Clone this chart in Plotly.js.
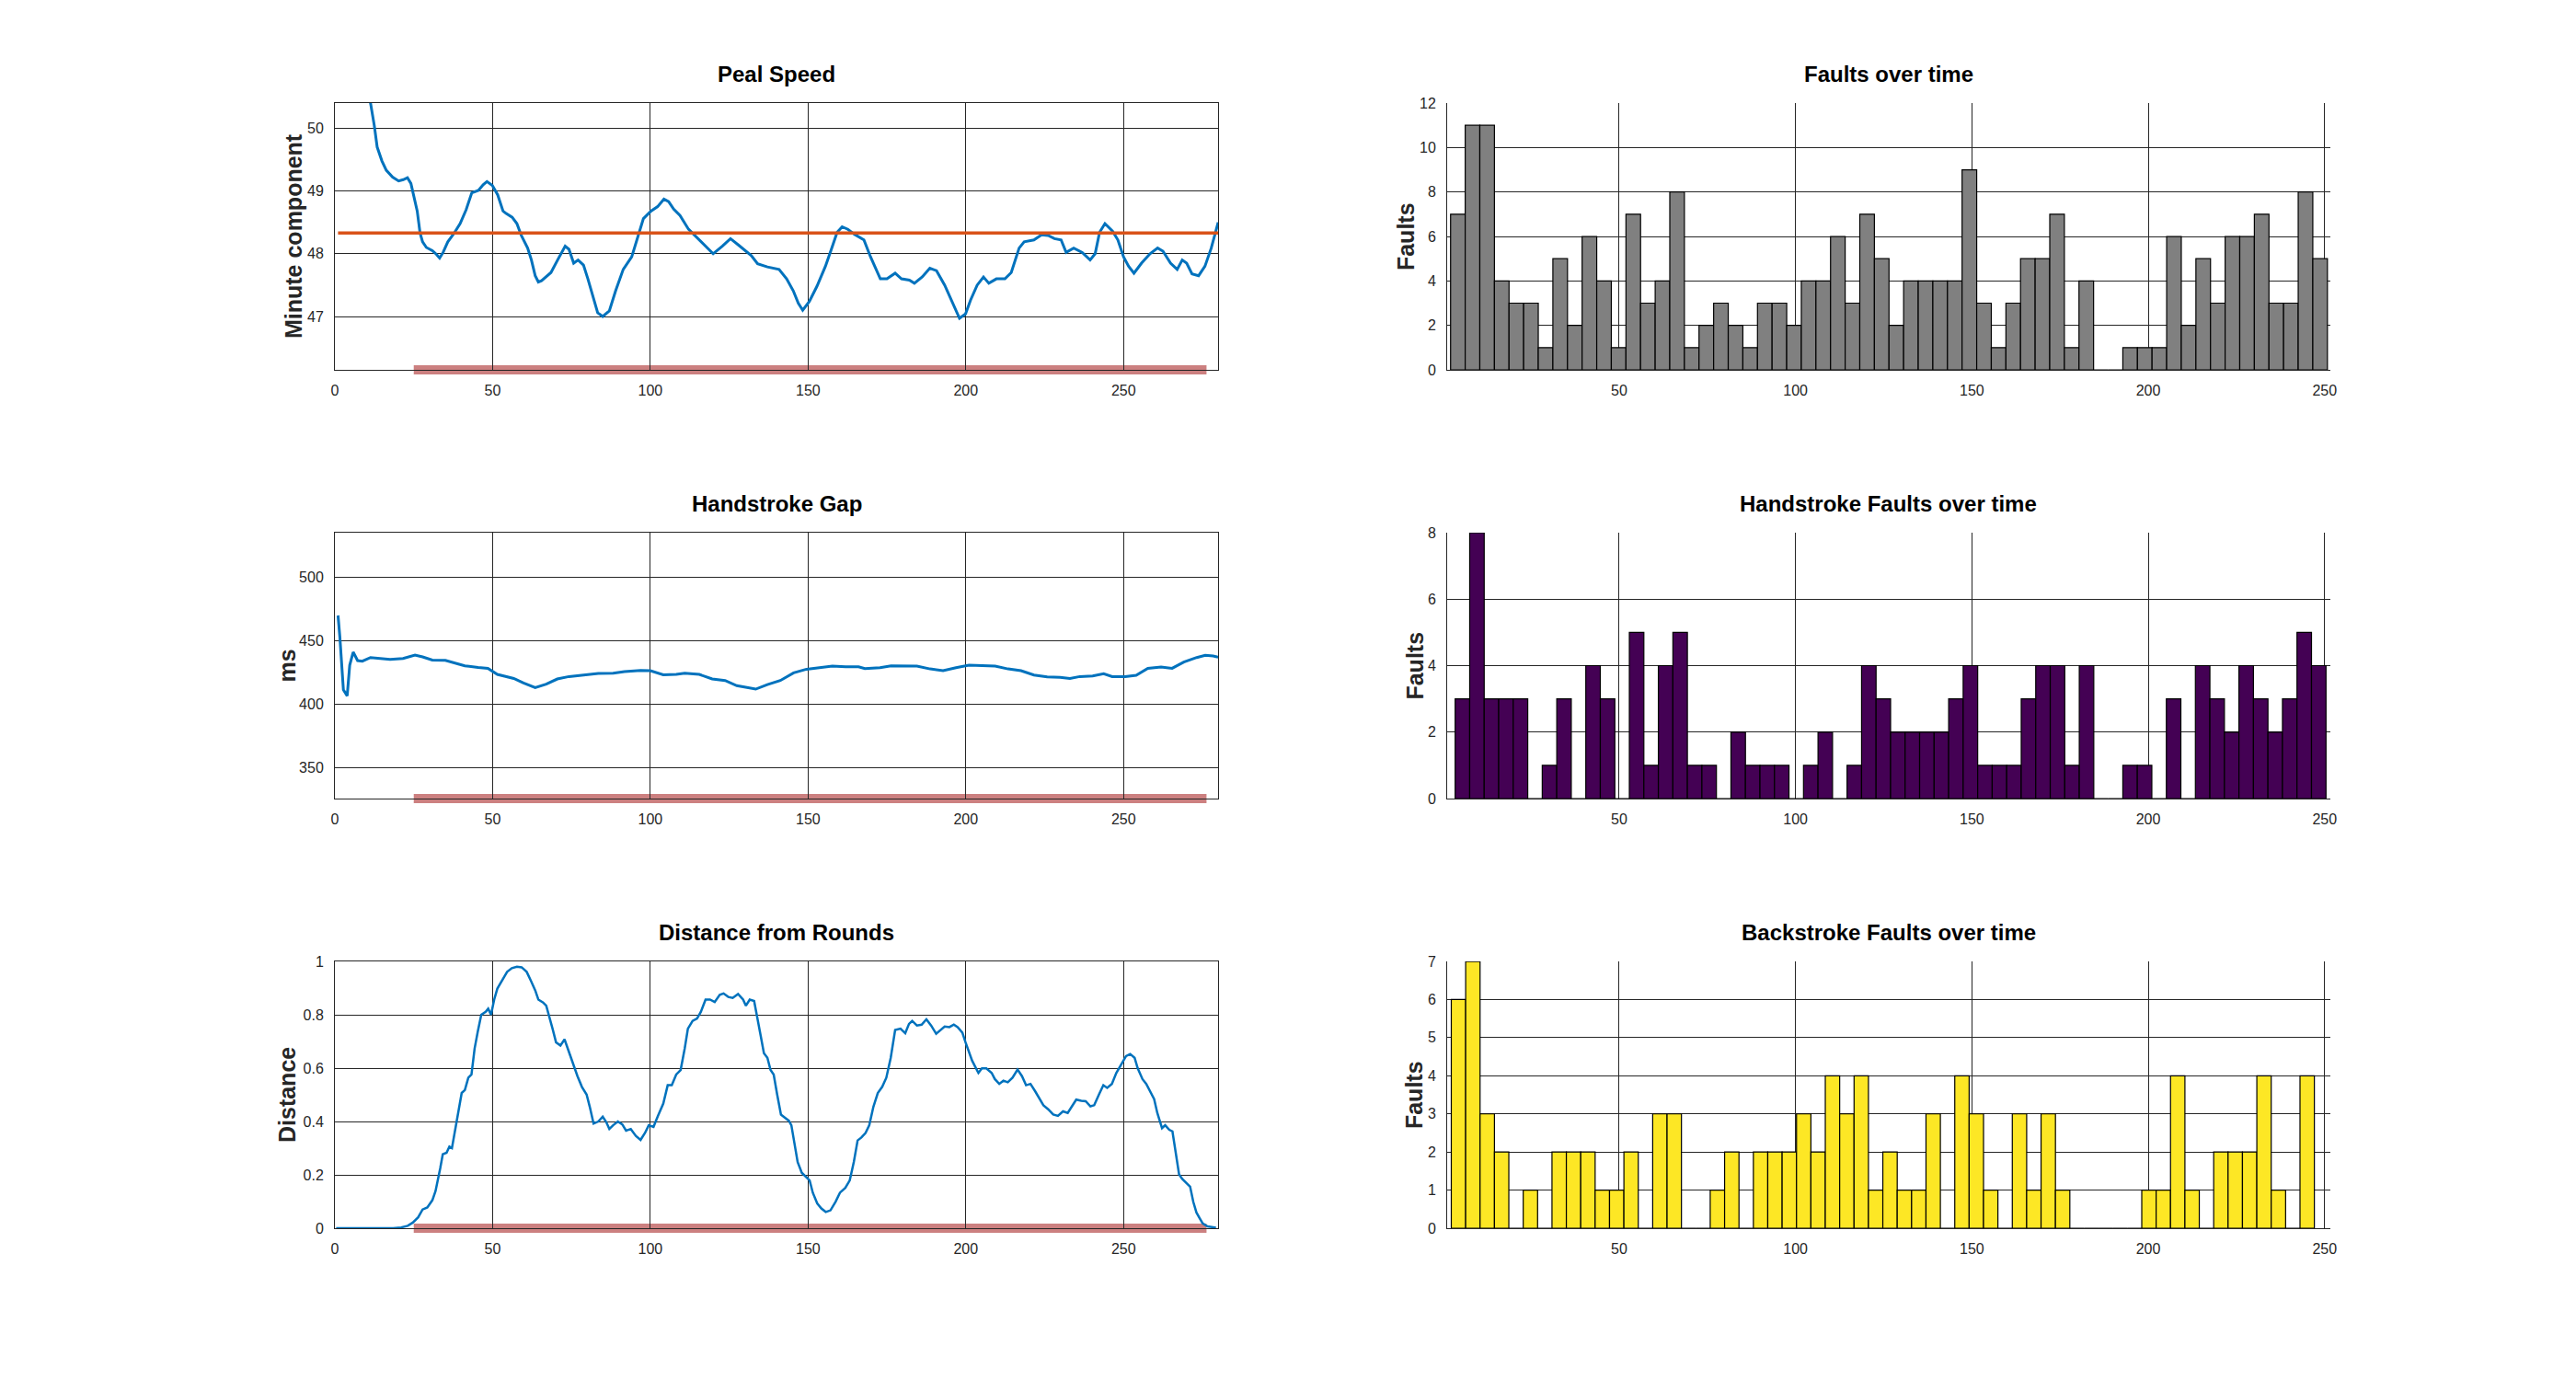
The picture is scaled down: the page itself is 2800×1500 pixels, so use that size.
<!DOCTYPE html>
<html>
<head>
<meta charset="utf-8">
<script src="https://cdn.plot.ly/plotly-3.0.1.min.js"></script>
<style>
  body { margin: 0; background: #fff; }
  #chart { width: 2800px; height: 1500px; }
</style>
</head>
<body>
<div id="chart"></div>
<script>
// Peal speed, minute component per row
const speedX = [1, 5, 8, 11.3, 12.5, 13.4, 14.9, 16.3, 18.3, 20.2, 21.7, 23, 24.1, 25.1, 26.1, 27, 27.8, 29, 30.9, 32.2, 33.2,
  34.3, 35.8, 37.7, 39.7, 41.6, 43.4, 45.5, 47, 48.2, 49.9, 51.6, 53.3, 54.3, 56.2, 57.7, 59.1, 61.1, 62.3, 63.5, 64.5,
  65.5, 68.5, 70.6, 73, 74.2, 75.7, 77.1, 78.8, 80.2, 81.8, 83.3, 84.9, 87, 89, 91.4, 94.1, 96.2, 97.8, 100.2, 102.3,
  104.3, 105.8, 107.4, 109.4, 112.1, 114.6, 117.2, 119.9, 122.8, 125.4, 127.9, 130.3, 132, 134, 137.1, 140.8, 143.2,
  145.3, 146.9, 148.3, 150.4, 152.8, 155.5, 157.5, 159.2, 160.8, 162.6, 164.7, 167.7, 169.8, 172.9, 175, 177.6, 179.6,
  182.1, 183.7, 186.2, 188.6, 190.7, 193.3, 195.4, 198, 199.9, 201.5, 203.6, 205.6, 207.3, 209.7, 212.4, 214.4, 216.9,
  218.5, 221.6, 224, 226.1, 228.1, 230.2, 231.8, 234.2, 236.9, 239.4, 241, 242.4, 244.1, 246.5, 248.2, 250, 251.6,
  253.3, 255.7, 258.4, 260.8, 262.5, 264.9, 267, 268.6, 270, 271.7, 273.8, 275.8, 277.8, 280];
const speedY = [53.0, 51.6, 50.9, 50.4, 50.04, 49.7, 49.48, 49.33, 49.22, 49.16, 49.18, 49.21, 49.12, 48.92, 48.68, 48.33, 48.19, 48.1, 48.05, 47.99, 47.93,
  48.02, 48.19, 48.32, 48.48, 48.7, 48.97, 49.01, 49.1, 49.15, 49.09, 48.94, 48.68, 48.64, 48.58, 48.48, 48.29, 48.09, 47.9, 47.65, 47.55,
  47.57, 47.7, 47.9, 48.12, 48.07, 47.85, 47.9, 47.82, 47.6, 47.31, 47.06, 47.0, 47.09, 47.41, 47.75, 47.95, 48.29, 48.56, 48.68, 48.75,
  48.87, 48.83, 48.71, 48.61, 48.39, 48.26, 48.14, 48.0, 48.12, 48.24, 48.14, 48.04, 47.97, 47.84, 47.79, 47.75, 47.6,
  47.41, 47.21, 47.1, 47.24, 47.48, 47.8, 48.09, 48.34, 48.43, 48.39, 48.31, 48.22, 47.95, 47.6, 47.6, 47.69, 47.6,
  47.58, 47.53, 47.63, 47.77, 47.73, 47.5, 47.26, 46.97, 47.04, 47.26, 47.5, 47.63, 47.53, 47.6, 47.6, 47.7, 48.09,
  48.19, 48.22, 48.3, 48.29, 48.24, 48.22, 48.02, 48.09, 48.02, 47.9, 48.0, 48.34, 48.48, 48.36, 48.22, 47.95, 47.8,
  47.69, 47.85, 48.0, 48.09, 48.04, 47.85, 47.75, 47.9, 47.85, 47.68, 47.65, 47.8, 48.09, 48.5];
const speedMean = 48.33;

// Handstroke gap (ms)
const gapX = [1, 1.6, 2.7, 3.9, 4.7, 5.8, 7.2, 8.7, 11.3, 14.4, 17.5, 21.6, 25.4, 27.8, 30.9, 35, 38.1, 41.2, 45.4, 48.5,
  51.5, 56.7, 59.8, 63.5, 67, 70.5, 74.2, 79.4, 83.5, 88.2, 91.8, 96.9, 100, 104.1, 108.2, 110.9, 115.5, 119.6, 123.7,
  127.4, 130.9, 133.4, 137.1, 141.2, 145.4, 149.5, 153.6, 157.7, 161.9, 166, 168, 172.8, 176.3, 180.4, 184.5, 188.7,
  192.8, 196.9, 201, 205.2, 209.3, 213.4, 217.5, 221.6, 225.8, 229.9, 233, 236.1, 240.2, 243.7, 246.4, 250.5, 254,
  257.7, 261.9, 265.4, 269.1, 273.2, 275.9, 278.4, 280];
const gapY = [469.6, 452, 411, 406.3, 430.4, 440.8, 434.1, 433.6, 436.5, 435.7, 435, 435.7, 438.4, 437, 434.5, 434.3, 432.1, 430, 428.7, 428,
  423.2, 420, 416.4, 412.8, 415.5, 419.6, 421.5, 422.7, 423.9, 424.2, 425.4, 426.3, 426.1, 422.9, 423.2, 424.2, 423.2, 419.6, 418.4,
  414.3, 413, 411.6, 415.2, 418.4, 424.4, 427.3, 428.5, 429.7, 429.2, 429.2, 427.8, 428.5, 429.9, 429.9, 429.7, 427.5,
  426.1, 428.5, 430.4, 430.2, 429.7, 427.5, 426.1, 422.7, 421.3, 420.8, 420, 421.5, 421.9, 423.7, 421.5, 421.5, 422.5,
  428, 429, 428, 432.9, 436.5, 438.2, 437.7, 436.7];

// Distance from rounds
const distX = [0.4, 18.5, 21, 23.1, 24.7, 26.4, 27.8, 29.3, 30.9, 31.9, 33.4, 34.2, 35.4, 36.3, 37.1, 38.1, 39.2, 40.2, 41.2, 42.3,
  43.3, 44.3, 45.3, 46.4, 47.8, 48.6, 49.5, 50.5, 51.5, 53.2, 54.6, 56.1, 57.7, 59.2, 60.8, 62.2, 63.5, 64.5, 66, 67,
  68, 69, 70.1, 71.5, 72.8, 74.2, 75.6, 76.9, 78.3, 79.8, 80.8, 82, 83.5, 84.9, 86, 87, 88.2, 89.7, 91.1, 92.3, 93.8,
  95.4, 96.9, 98.3, 99.5, 101, 102.4, 104.1, 105.5, 106.8, 108.2, 109.6, 110.9, 111.9, 113.4, 114.8, 116, 117.5, 118.9,
  120.4, 122, 123.2, 124.7, 126.1, 127.8, 129.4, 130.3, 131.5, 132.9, 134, 135, 136, 137.1, 138.1, 139.1, 140.2, 141.4,
  142.6, 143.9, 144.7, 145.7, 146.7, 148, 149.4, 150.5, 151.5, 152.9, 154.2, 155.6, 157.1, 158.7, 160.1, 161.8, 163.2,
  164.5, 165.7, 166.9, 168.2, 169.4, 170.7, 172.1, 173.5, 174.8, 176.2, 177.6, 179.3, 180.8, 182, 183, 184.5, 186,
  187.5, 189, 190.6, 192.1, 193.3, 194.8, 196.2, 197.4, 198.9, 199.9, 200.9, 202, 203, 204, 205.1, 206.5, 208.2, 209.2,
  210.6, 211.9, 213.3, 214.8, 216.4, 217.8, 219.1, 220.5, 222, 223.2, 224.6, 226.1, 227.7, 229.2, 230.8, 232.3, 233.5,
  235, 236.6, 238, 239.5, 240.7, 242.2, 243.6, 244.8, 246.3, 247.7, 249.4, 250.8, 252.1, 253.5, 254.5, 256, 257.2,
  258.7, 259.7, 260.7, 262.2, 263.2, 264.5, 265.5, 266.5, 267.6, 268.6, 270, 271.1, 272.1, 273.1, 274.2, 275.1, 276.6, 279.3];
const distY = [0, 0, 0.003, 0.009, 0.021, 0.041, 0.07, 0.078, 0.105, 0.139, 0.225, 0.277, 0.283, 0.306, 0.3, 0.363, 0.444, 0.507, 0.518, 0.564,
  0.576, 0.674, 0.737, 0.8, 0.811, 0.823, 0.8, 0.857, 0.898, 0.932, 0.961, 0.975, 0.98, 0.978, 0.961, 0.926, 0.892, 0.857, 0.846, 0.834,
  0.794, 0.748, 0.697, 0.685, 0.708, 0.662, 0.61, 0.57, 0.53, 0.501, 0.455, 0.392, 0.4, 0.418, 0.398, 0.372, 0.386, 0.4, 0.389, 0.366, 0.372,
  0.346, 0.331, 0.357, 0.386, 0.38, 0.421, 0.467, 0.536, 0.536, 0.576, 0.593, 0.674, 0.748, 0.777, 0.786, 0.811, 0.857, 0.857,
  0.848, 0.875, 0.88, 0.867, 0.863, 0.878, 0.857, 0.834, 0.857, 0.852, 0.789, 0.72, 0.656, 0.639, 0.593, 0.576, 0.501, 0.426,
  0.415, 0.403, 0.386, 0.317, 0.248, 0.208, 0.191, 0.179, 0.133, 0.093, 0.074, 0.061, 0.067, 0.099, 0.133, 0.151, 0.179,
  0.248, 0.329, 0.34, 0.357, 0.386, 0.455, 0.507, 0.53, 0.564, 0.639, 0.743, 0.748, 0.731, 0.766, 0.777, 0.76, 0.763,
  0.783, 0.76, 0.729, 0.743, 0.756, 0.754, 0.763, 0.754, 0.733, 0.697, 0.662, 0.628, 0.605, 0.582, 0.599, 0.599, 0.582, 0.559,
  0.541, 0.553, 0.547, 0.564, 0.595, 0.57, 0.536, 0.541, 0.513, 0.49, 0.461, 0.446, 0.426, 0.421, 0.438, 0.432, 0.455,
  0.482, 0.478, 0.476, 0.457, 0.461, 0.501, 0.536, 0.526, 0.541, 0.582, 0.616, 0.645, 0.653, 0.639, 0.599, 0.559, 0.541,
  0.507, 0.484, 0.432, 0.375, 0.386, 0.369, 0.363, 0.283, 0.202, 0.185, 0.168, 0.156, 0.099, 0.059, 0.036, 0.018, 0.007, 0.002];

// highlighted span along the bottom of the left panels
const spanStart = 25;
const spanEnd = 276.3;

// fault histograms: 60 bins each
const faultCounts = [7, 11, 11, 4, 3, 3, 1, 5, 2, 6, 4, 1, 7, 3, 4, 8, 1, 2, 3, 2, 1, 3, 3, 2, 4, 4, 6, 3, 7, 5,
  2, 4, 4, 4, 4, 9, 3, 1, 3, 5, 5, 7, 1, 4, 0, 0, 1, 1, 1, 6, 2, 5, 3, 6, 6, 7, 3, 3, 8, 5];
const handCounts = [3, 8, 3, 3, 3, 0, 1, 3, 0, 4, 3, 0, 5, 1, 4, 5, 1, 1, 0, 2, 1, 1, 1, 0, 1, 2, 0, 1, 4, 3,
  2, 2, 2, 2, 3, 4, 1, 1, 1, 3, 4, 4, 1, 4, 0, 0, 1, 1, 0, 3, 0, 4, 3, 2, 4, 3, 2, 3, 5, 4];
const backCounts = [6, 7, 3, 2, 0, 1, 0, 2, 2, 2, 1, 1, 2, 0, 3, 3, 0, 0, 1, 2, 0, 2, 2, 2, 3, 2, 4, 3, 4, 1,
  2, 1, 1, 3, 0, 4, 3, 1, 0, 3, 1, 3, 1, 0, 0, 0, 0, 0, 1, 1, 4, 1, 0, 2, 2, 2, 4, 1, 0, 4];
const faultBins = { start: 2.2, end: 250.8 };
const handBins = { start: 3.5, end: 250.4 };
const backBins = { start: 2.4, end: 247.1 };

function binCenters(counts, bins) {
  const w = (bins.end - bins.start) / counts.length;
  return { x: counts.map((c, i) => bins.start + w * (i + 0.5)), w: w };
}

const FONT = 'Liberation Sans, Arial, Helvetica, sans-serif';
const INK = '#262626';
const BLUE = '#0072BD';

const colX = [[0.130, 0.4729], [0.5618, 0.9046]];
const rowY = [[0.732, 0.9253], [0.4213, 0.614], [0.11, 0.3033]];

function axis(extra) {
  return Object.assign({
    showgrid: true, gridcolor: INK, gridwidth: 1,
    zeroline: false, showline: true, linecolor: INK, linewidth: 1,
    ticks: '', ticklabelstandoff: 8,
    tickfont: { family: FONT, size: 16, color: INK },
    fixedrange: true
  }, extra);
}

const traces = [];

traces.push({ x: speedX, y: speedY, xaxis: 'x', yaxis: 'y', type: 'scatter', mode: 'lines',
  line: { color: BLUE, width: 3 } });
traces.push({ x: [speedX[0], speedX[speedX.length - 1]], y: [speedMean, speedMean], xaxis: 'x', yaxis: 'y',
  type: 'scatter', mode: 'lines', line: { color: '#D95319', width: 3.3 } });
traces.push({ x: gapX, y: gapY, xaxis: 'x3', yaxis: 'y3', type: 'scatter', mode: 'lines',
  line: { color: BLUE, width: 3 } });
traces.push({ x: distX, y: distY, xaxis: 'x5', yaxis: 'y5', type: 'scatter', mode: 'lines',
  line: { color: BLUE, width: 2.5 } });

[[faultCounts, faultBins, '#808080', '2'], [handCounts, handBins, '#440154', '4'], [backCounts, backBins, '#FDE725', '6']]
  .forEach(([counts, bins, color, n]) => {
    const b = binCenters(counts, bins);
    traces.push({ x: b.x, y: counts, width: b.w, type: 'bar', xaxis: 'x' + n, yaxis: 'y' + n,
      marker: { color: color, line: { color: '#000', width: 1.2 } } });
  });

const layout = {
  width: 2800, height: 1500,
  margin: { l: 0, r: 0, t: 0, b: 0 },
  paper_bgcolor: '#fff', plot_bgcolor: '#fff',
  showlegend: false,
  bargap: 0,
  xaxis: axis({ domain: colX[0], anchor: 'y', range: [0, 280], dtick: 50, tick0: 0, mirror: true }),
  yaxis: axis({ domain: rowY[0], anchor: 'x', range: [46.15, 50.4], dtick: 1, mirror: true }),
  xaxis3: axis({ domain: colX[0], anchor: 'y3', range: [0, 280], dtick: 50, tick0: 0, mirror: true }),
  yaxis3: axis({ domain: rowY[1], anchor: 'x3', range: [325.4, 534.8], dtick: 50, tick0: 0, mirror: true }),
  xaxis5: axis({ domain: colX[0], anchor: 'y5', range: [0, 280], dtick: 50, tick0: 0, mirror: true }),
  yaxis5: axis({ domain: rowY[2], anchor: 'x5', range: [0, 1], dtick: 0.2, mirror: true }),
  xaxis2: axis({ domain: colX[1], anchor: 'y2', range: [1.24, 251.6], dtick: 50, tick0: 0 }),
  yaxis2: axis({ domain: rowY[0], anchor: 'x2', range: [0, 12], dtick: 2 }),
  xaxis4: axis({ domain: colX[1], anchor: 'y4', range: [1.24, 251.6], dtick: 50, tick0: 0 }),
  yaxis4: axis({ domain: rowY[1], anchor: 'x4', range: [0, 8], dtick: 2 }),
  xaxis6: axis({ domain: colX[1], anchor: 'y6', range: [1.24, 251.6], dtick: 50, tick0: 0 }),
  yaxis6: axis({ domain: rowY[2], anchor: 'x6', range: [0, 7], dtick: 1 }),
  shapes: ['', '3', '5'].map(n => ({
    type: 'line', layer: 'below', xref: 'x' + n, yref: 'y' + n + ' domain',
    x0: spanStart, x1: spanEnd, y0: 0, y1: 0,
    line: { color: 'rgb(204,128,128)', width: 10 }
  })),
  annotations: []
};

const panels = [
  { title: 'Peal Speed', ylabel: 'Minute component', col: 0, row: 0, shift: 45 },
  { title: 'Faults over time', ylabel: 'Faults', col: 1, row: 0, shift: 45 },
  { title: 'Handstroke Gap', ylabel: 'ms', col: 0, row: 1, shift: 52 },
  { title: 'Handstroke Faults over time', ylabel: 'Faults', col: 1, row: 1, shift: 36 },
  { title: 'Distance from Rounds', ylabel: 'Distance', col: 0, row: 2, shift: 52 },
  { title: 'Backstroke Faults over time', ylabel: 'Faults', col: 1, row: 2, shift: 36 }
];

panels.forEach(p => {
  const xd = colX[p.col], yd = rowY[p.row];
  layout.annotations.push({
    text: '<b>' + p.title + '</b>', xref: 'paper', yref: 'paper',
    x: (xd[0] + xd[1]) / 2, y: yd[1], xanchor: 'center', yanchor: 'middle', yshift: 32,
    showarrow: false, font: { family: FONT, size: 24, color: '#000' }
  });
  layout.annotations.push({
    text: '<b>' + p.ylabel + '</b>', xref: 'paper', yref: 'paper',
    x: xd[0], y: (yd[0] + yd[1]) / 2, xanchor: 'center', yanchor: 'middle', xshift: -p.shift,
    textangle: -90, showarrow: false, font: { family: FONT, size: 25, color: INK }
  });
});

Plotly.newPlot('chart', traces, layout, { displayModeBar: false, staticPlot: true });
</script>
</body>
</html>
